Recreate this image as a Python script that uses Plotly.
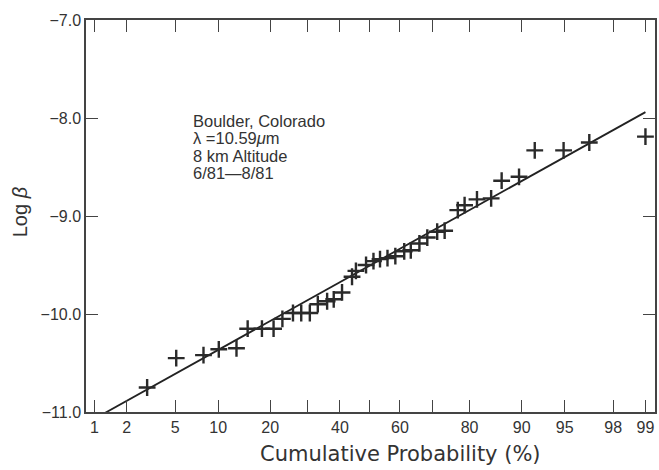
import plotly.graph_objects as go
from statistics import NormalDist

# ---- data ----
cum_prob = [3.0, 5.1, 8.0, 10.1, 13.0, 15.1, 18.1, 20.8, 23.0, 25.8, 28.1, 30.6, 33.0,
            35.9, 38.0, 40.7, 44.0, 45.3, 48.7, 51.2, 53.4, 55.9, 58.5, 61.4, 63.5,
            66.2, 68.6, 71.5, 73.6, 77.1, 78.8, 81.7, 84.7, 86.7, 89.6, 91.8, 94.9,
            96.8, 99.0]
log_beta = [-10.75, -10.45, -10.42, -10.36, -10.35, -10.15, -10.15, -10.15, -10.05,
            -9.99, -9.99, -9.99, -9.90, -9.87, -9.85, -9.78, -9.62, -9.56, -9.50,
            -9.46, -9.44, -9.43, -9.41, -9.36, -9.35, -9.28, -9.22, -9.16, -9.15,
            -8.94, -8.89, -8.83, -8.82, -8.64, -8.60, -8.33, -8.33, -8.25, -8.19]

fit_prob = [1.0, 99.0]
fit_logb = [-11.07, -7.94]

x_tick_prob = [1, 2, 5, 10, 20, 30, 40, 50, 60, 70, 80, 90, 95, 98, 99]
x_tick_text = ["1", "2", "5", "10", "20", "", "40", "", "60", "", "80", "90", "95", "98", "99"]
y_tick_vals = [-11, -10, -9, -8, -7]
y_tick_text = ["\u221211.0", "\u221210.0", "\u22129.0", "\u22128.0", "\u22127.0"]

note_lines = ["Boulder, Colorado", "\u03bb =10.59<i>\u03bc</i>m", "8 km Altitude", "6/81\u20148/81"]

# normal-probability scale: transform percentages to standard normal quantiles
nd = NormalDist()
def zq(p):
    return nd.inv_cdf(p / 100.0)

FONT = "Liberation Sans, Arial, Helvetica, sans-serif"
WIDE = "DejaVu Sans, Verdana, sans-serif"
INK = "#333333"
AX = "#444444"

fig = go.Figure()
fig.add_trace(go.Scatter(
    x=[zq(p) for p in fit_prob], y=fit_logb, mode="lines",
    line=dict(color="#222222", width=1.8), showlegend=False, hoverinfo="skip"))
fig.add_trace(go.Scatter(
    x=[zq(p) for p in cum_prob], y=log_beta, mode="markers",
    marker=dict(symbol="cross-thin", size=12, line=dict(color="#2a2a2a", width=2.4)),
    showlegend=False))

axis_common = dict(showline=True, linecolor=AX, linewidth=1.5, mirror="ticks",
                   ticks="inside", ticklen=12, tickwidth=1.3, tickcolor=AX,
                   showgrid=False, zeroline=False,
                   tickfont=dict(family=FONT, size=16, color=INK))

fig.update_xaxes(range=[-2.397, 2.407], tickmode="array",
                 tickvals=[zq(p) for p in x_tick_prob], ticktext=x_tick_text,
                 **axis_common)
fig.update_yaxes(range=[-11, -7], tickmode="array", tickvals=y_tick_vals,
                 ticktext=y_tick_text, **axis_common)

ann = []
ann.append(dict(text="Cumulative Probability (%)", xref="paper", yref="paper",
                x=0.553, y=-0.108, xanchor="center", yanchor="middle", showarrow=False,
                font=dict(family=WIDE, size=21, color=INK)))
ann.append(dict(text="Log <i>\u03b2</i>", xref="paper", yref="paper",
                x=-0.1156, y=0.51, xanchor="center", yanchor="middle", showarrow=False,
                textangle=-90, font=dict(family=FONT, size=20, color=INK)))
note_y = [0.742, 0.699, 0.654, 0.610]
for t, yy in zip(note_lines, note_y):
    ann.append(dict(text=t, xref="paper", yref="paper", x=0.185, y=yy,
                    xanchor="left", yanchor="middle", showarrow=False,
                    font=dict(family=FONT, size=16.5, color=INK)))

fig.update_layout(width=659, height=470, margin=dict(l=86, r=2, t=20, b=58),
                  paper_bgcolor="white", plot_bgcolor="white", annotations=ann)

fig.write_html("out.html")
